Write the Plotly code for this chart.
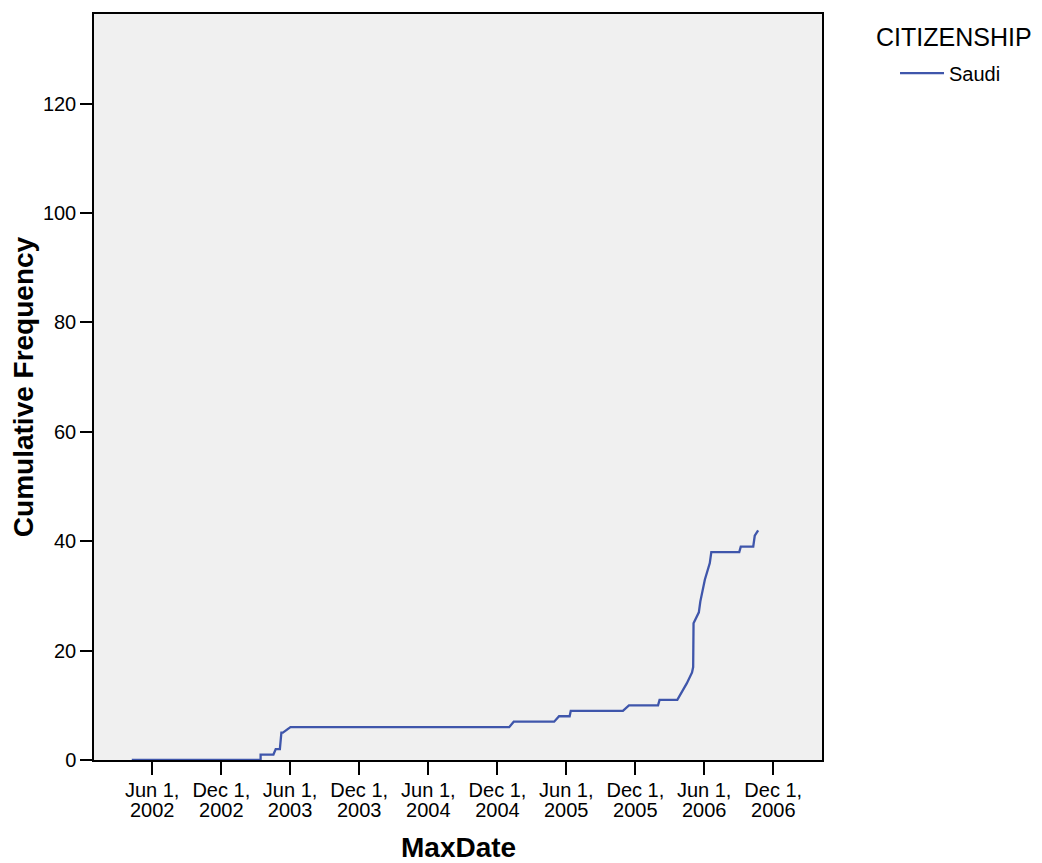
import plotly.graph_objects as go

# Data
dates = [
    "2002-04-08", "2003-03-15", "2003-03-15", "2003-04-18", "2003-04-24",
    "2003-05-05", "2003-05-09", "2003-05-13", "2003-06-02", "2005-01-01",
    "2005-01-13", "2005-04-30", "2005-05-13", "2005-06-10", "2005-06-13",
    "2005-10-29", "2005-11-14", "2006-01-30", "2006-02-03", "2006-03-22",
    "2006-04-16", "2006-04-24", "2006-04-30", "2006-05-03", "2006-05-04",
    "2006-05-18", "2006-05-22", "2006-06-03", "2006-06-16", "2006-06-20",
    "2006-09-02", "2006-09-06", "2006-10-09", "2006-10-13", "2006-10-22",
]
cum_freq = [
    0, 0, 1, 1, 2,
    2, 5, 5, 6, 6,
    7, 7, 8, 8, 9,
    9, 10, 10, 11, 11,
    14, 15, 16, 17, 25,
    27, 29, 33, 36, 38,
    38, 39, 39, 41, 42,
]
series_name = "Saudi"
legend_title = "CITIZENSHIP"

tick_dates = ["2002-06-01", "2002-12-01", "2003-06-01", "2003-12-01", "2004-06-01",
              "2004-12-01", "2005-06-01", "2005-12-01", "2006-06-01", "2006-12-01"]
tick_day_labels = ["Jun 1,", "Dec 1,", "Jun 1,", "Dec 1,", "Jun 1,",
                   "Dec 1,", "Jun 1,", "Dec 1,", "Jun 1,", "Dec 1,"]
tick_year_labels = ["2002", "2002", "2003", "2003", "2004",
                    "2004", "2005", "2005", "2006", "2006"]
y_ticks = [0, 20, 40, 60, 80, 100, 120]
x_range = ["2001-12-29", "2007-04-09"]

FONT = "Liberation Sans, Arial, sans-serif"

fig = go.Figure()
fig.add_trace(go.Scatter(
    x=dates, y=cum_freq, mode="lines", name=series_name,
    line=dict(color="#3f56ab", width=2.3),
))
# invisible companion trace so the second (year-label) axis is drawn
fig.add_trace(go.Scatter(
    x=dates, y=cum_freq, mode="lines", xaxis="x2", yaxis="y",
    line=dict(color="rgba(0,0,0,0)", width=0), opacity=0,
    showlegend=False, hoverinfo="skip",
))

fig.add_annotation(
    text=legend_title, xref="paper", yref="paper",
    x=1.0714, y=0.9693, xanchor="left", yanchor="middle",
    showarrow=False, font=dict(size=25, family=FONT, color="black"),
)
fig.add_annotation(
    text="<b>MaxDate</b>", xref="paper", yref="paper",
    x=0.5, y=-0.1176, xanchor="center", yanchor="middle",
    showarrow=False, font=dict(size=28, family=FONT, color="black"),
)

fig.update_layout(
    width=1042, height=863,
    margin=dict(l=86, r=228, t=4, b=111),
    paper_bgcolor="white",
    plot_bgcolor="#f0f0f0",
    font=dict(family=FONT, size=20, color="black"),
    showlegend=True,
    legend=dict(
        x=1.1003, y=0.947, xanchor="left", yanchor="top",
        itemwidth=44,
        font=dict(size=20, family=FONT),
        bgcolor="rgba(0,0,0,0)",
    ),
    xaxis=dict(
        type="date",
        range=x_range,
        tickmode="array", tickvals=tick_dates, ticktext=tick_day_labels,
        ticks="outside", ticklen=13, tickwidth=2, tickcolor="black",
        ticklabelstandoff=-2,
        showline=True, linecolor="black", linewidth=1.5, mirror=True,
        showgrid=False, zeroline=False,
        tickfont=dict(size=20, family=FONT),
    ),
    xaxis2=dict(
        type="date",
        overlaying="x", anchor="y", side="bottom",
        range=x_range,
        tickmode="array", tickvals=tick_dates, ticktext=tick_year_labels,
        ticks="outside", ticklen=13, tickwidth=2, tickcolor="rgba(0,0,0,0)",
        ticklabelstandoff=19,
        showline=False, showgrid=False, zeroline=False,
        tickfont=dict(size=20, family=FONT),
    ),
    yaxis=dict(
        range=[0, 136.4],
        tickmode="array", tickvals=y_ticks,
        ticks="outside", ticklen=12, tickwidth=2, tickcolor="black",
        showline=True, linecolor="black", linewidth=1.5, mirror=True,
        showgrid=False, zeroline=False,
        tickfont=dict(size=20, family=FONT),
        title=dict(text="<b>Cumulative Frequency</b>", font=dict(size=28, family=FONT), standoff=8),
    ),
)

fig.write_html("out.html")
